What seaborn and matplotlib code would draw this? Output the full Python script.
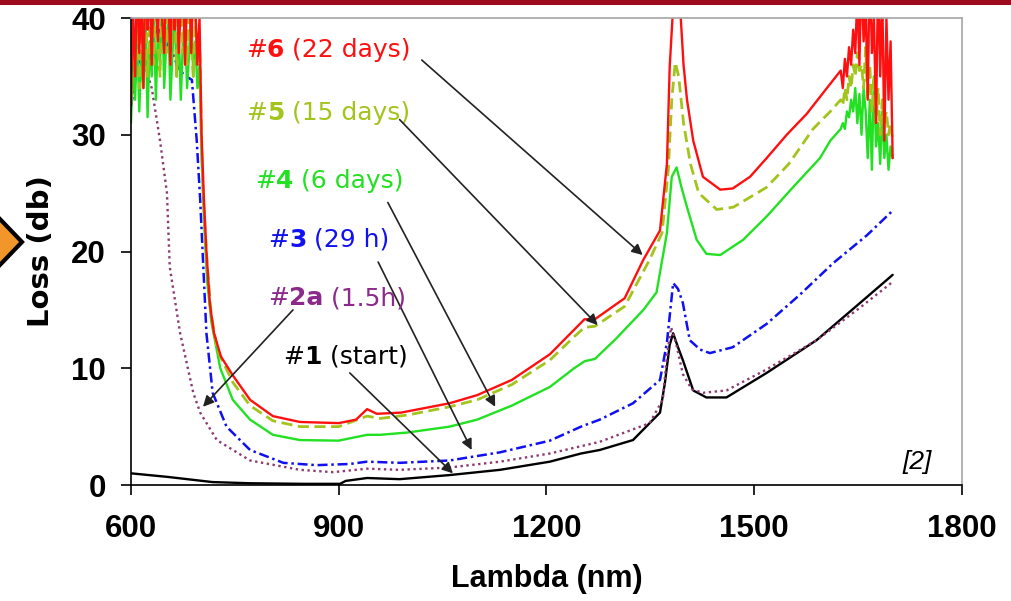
import pandas as pd
import matplotlib.pyplot as plt
import seaborn as sns
from matplotlib.patches import Polygon, Rectangle

# wavelength grids for the noisy ends of the spectra
wl_head = list(range(600, 700, 3))
wl_tail = list(range(1625, 1701, 3))

# #6 (22 days)
loss6_head = [32.5, 41, 35, 44, 37, 42, 34, 45, 39, 43, 36, 44, 41, 38, 45, 40, 37,
              44, 42, 36, 45, 39, 43, 37, 41, 45, 36, 42, 44, 37, 43, 41, 36, 40]
wl6_mid = [702, 705, 709, 714, 720, 730, 747, 772, 805, 844, 900, 925, 941, 955, 990,
           1060, 1100, 1150, 1205, 1240, 1255, 1270, 1313, 1340, 1364, 1374, 1378, 1383,
           1393, 1398, 1403, 1412, 1426, 1451, 1469, 1494, 1518, 1547, 1576, 1605]
loss6_mid = [30, 25, 20, 15.5, 13, 11, 9.4, 7.3, 5.9, 5.4, 5.3, 5.6, 6.5, 6.1, 6.2,
             7.0, 7.7, 9.0, 11.2, 13.3, 14.2, 14.2, 16.0, 19.3, 21.8, 27.5, 35.8, 41,
             41, 36, 33, 29.5, 26.4, 25.3, 25.4, 26.4, 28, 30, 31.8, 34]
loss6_tail = [35.5, 34, 36.5, 35, 37.5, 36, 39, 37, 42, 36, 44, 38, 41, 33, 45, 37, 40,
              31, 44, 35, 42, 29.5, 40, 33, 38, 28]

# #5 (15 days)
loss5_head = [33, 38, 36, 42, 34, 40, 37, 43, 35, 39, 41, 36, 44, 38, 35, 42, 39, 37,
              43, 36, 40, 42, 35, 39, 44, 37, 41, 36, 43, 38, 35, 40, 37, 39]
wl5_mid = [702, 705, 710, 716, 725, 747, 772, 805, 844, 900, 941, 960, 1000, 1060,
           1100, 1150, 1205, 1240, 1255, 1270, 1313, 1349, 1367, 1376, 1381, 1386, 1391,
           1398, 1408, 1420, 1446, 1470, 1518, 1550, 1585, 1610]
loss5_mid = [29, 24, 19, 14.5, 11.5, 8.8, 6.8, 5.5, 5.0, 5.0, 5.9, 5.7, 6.0, 6.7,
             7.3, 8.6, 10.7, 12.7, 13.5, 13.6, 15.3, 19.3, 21.6, 27, 33, 36.2, 35,
             31, 27.5, 25, 23.6, 23.8, 25.5, 27.5, 30.5, 32]
loss5_tail = [33, 32.5, 34, 33, 35, 34, 36, 35, 37, 35.5, 36, 34, 37.5, 33, 36, 32, 35,
              31, 34, 30, 33, 31, 32, 30, 31, 29.5]

# #4 (6 days)
loss4_head = [31, 36, 33, 39, 32, 37, 34, 40, 31.5, 38, 35, 41, 33, 39, 36, 42, 34, 38,
              40, 33, 37, 41, 35, 39, 33, 38, 40, 34, 37, 41, 35, 38, 34, 36]
wl4_mid = [702, 706, 710, 716, 729, 747, 772, 805, 844, 900, 941, 960, 1000, 1060,
           1100, 1150, 1205, 1240, 1255, 1270, 1300, 1340, 1359, 1374, 1381, 1388, 1395,
           1403, 1417, 1431, 1451, 1484, 1518, 1556, 1595, 1610]
loss4_mid = [28, 22, 17.5, 14, 10, 7.3, 5.6, 4.3, 3.85, 3.8, 4.3, 4.3, 4.5, 5.0,
             5.6, 6.8, 8.4, 10.0, 10.6, 10.8, 12.5, 15, 16.5, 21.6, 26.4, 27.2, 25.5,
             23.8, 21, 19.8, 19.7, 21, 23, 25.5, 28, 29.5]
loss4_tail = [30.5, 31, 30.5, 32, 31.5, 33, 32, 34, 31, 33.5, 30, 34, 32, 28, 33, 27, 35,
              29, 31, 27.5, 32, 28, 30, 27, 29, 28]

# #3 (29 h)
wl3 = [600, 610, 620, 630, 640, 650, 660, 670, 680, 688, 695, 700, 704, 709, 718, 738,
       772, 820, 868, 916, 941, 988, 1060, 1133, 1205, 1250, 1277, 1325, 1364, 1374,
       1383, 1390, 1397, 1407, 1422, 1436, 1469, 1518, 1566, 1614, 1663, 1700]
loss3 = [32.4, 36, 38, 38.5, 39, 38, 37, 35.5, 35, 34.7, 29.5, 24.4, 19.3, 13, 7.9, 5.0,
         3.0, 1.9, 1.7, 1.8, 2.0, 1.9, 2.1, 2.8, 3.8, 5.0, 5.6, 7.0, 9.0, 12.2,
         17.3, 16.8, 15.6, 12.4, 11.6, 11.3, 11.8, 13.8, 16.3, 19.0, 21.4, 23.5]

# #2a (1.5h)
wl2 = [600, 607, 613, 620, 630, 642, 652, 656, 671, 690, 700, 724, 772, 844, 892, 941,
       988, 1060, 1133, 1205, 1277, 1349, 1368, 1374, 1380, 1387, 1397, 1410, 1426,
       1460, 1518, 1590, 1653, 1700]
loss2 = [33, 35.5, 37, 36, 34, 29.5, 25, 18.7, 13, 7.9, 6.2, 3.85, 2.1, 1.3, 1.1, 1.4,
         1.3, 1.5, 2.0, 2.7, 3.7, 5.3, 7.3, 11, 13.5, 12.2, 9.5, 8.2, 7.9,
         8.1, 9.9, 12.4, 15.2, 17.4]

# #1 (start)
wl1 = [600, 652, 718, 772, 850, 902, 910, 941, 988, 1060, 1133, 1205, 1250, 1277, 1325,
       1364, 1371, 1378, 1383, 1390, 1397, 1412, 1431, 1460, 1518, 1590, 1653, 1700]
loss1 = [1.0, 0.7, 0.25, 0.15, 0.1, 0.1, 0.35, 0.6, 0.5, 0.85, 1.3, 2.0, 2.7, 3.0, 3.85,
         6.2, 8.7, 12, 13.0, 11.8, 10.7, 8.1, 7.5, 7.5, 9.6, 12.4, 15.6, 18.0]

sns.set_style('ticks')
plt.rcParams['text.color'] = 'black'
plt.rcParams['axes.labelcolor'] = 'black'
plt.rcParams['xtick.color'] = 'black'
plt.rcParams['ytick.color'] = 'black'

fig = plt.figure(figsize=(10.12, 6.01), dpi=100)
ax = fig.add_axes([0.1294, 0.193, 0.8211, 0.777])

c_red, c_olive, c_green = '#ff1010', '#a3c41c', '#22e022'
c_blue, c_purple = '#1010f0', '#8c3a70'

df1 = pd.DataFrame({'wl': wl1, 'loss': loss1})
df2 = pd.DataFrame({'wl': wl2, 'loss': loss2})
df3 = pd.DataFrame({'wl': wl3, 'loss': loss3})
df4 = pd.DataFrame({'wl': wl_head + wl4_mid + wl_tail,
                    'loss': loss4_head + loss4_mid + loss4_tail})
df5 = pd.DataFrame({'wl': wl_head + wl5_mid + wl_tail,
                    'loss': loss5_head + loss5_mid + loss5_tail})
df6 = pd.DataFrame({'wl': wl_head + wl6_mid + wl_tail,
                    'loss': loss6_head + loss6_mid + loss6_tail})

kw = dict(x='wl', y='loss', ax=ax, sort=False, estimator=None, legend=False)
sns.lineplot(data=df1, color='black', linewidth=1.7, **kw)
sns.lineplot(data=df2, color=c_purple, linewidth=1.7, linestyle=(0, (1, 1.5)), **kw)
sns.lineplot(data=df3, color=c_blue, linewidth=1.8, linestyle=(0, (4, 1.5, 1, 1.5)), **kw)
sns.lineplot(data=df4, color=c_green, linewidth=1.7, **kw)
sns.lineplot(data=df5, color=c_olive, linewidth=2.0, linestyle=(0, (4, 2)), **kw)
sns.lineplot(data=df6, color=c_red, linewidth=1.7, **kw)

ax.set_xlim(600, 1800)
ax.set_ylim(0, 40)
ax.set_xticks([600, 900, 1200, 1500, 1800])
ax.set_yticks([0, 10, 20, 30, 40])

tick_font = dict(family='Liberation Sans', weight='bold', size=22.5, color='black')
ax.set_xticklabels(['600', '900', '1200', '1500', '1800'], fontdict=tick_font)
ax.set_yticklabels(['0', '10', '20', '30', '40'], fontdict=tick_font)
ax.tick_params(axis='x', direction='out', length=7, width=1.2, pad=14, color='black')
ax.tick_params(axis='y', direction='out', length=7, width=1.2, pad=11, color='black')

for side in ['left', 'bottom']:
    ax.spines[side].set_color('black')
    ax.spines[side].set_linewidth(1.2)
for side in ['top', 'right']:
    ax.spines[side].set_visible(True)
    ax.spines[side].set_color('#a6a6a6')
    ax.spines[side].set_linewidth(1.2)

ax.set_xlabel('Lambda (nm)', family='Liberation Sans', weight='bold', size=22,
              labelpad=14, color='black')
ax.set_ylabel('Loss (db)', family='DejaVu Sans', weight='bold', size=21,
              labelpad=12, color='black')

# curve labels: "#", bold number, then the rest
labels = [
    ('6', ' (22 days)', c_red, 766, 37.3, (1020, 36.4), (1339, 19.7)),
    ('5', ' (15 days)', c_olive, 766, 31.9, (988, 31.3), (1274, 13.7)),
    ('4', ' (6 days)', c_green, 779, 26.0, (971, 24.2), (1126, 6.7)),
    ('3', ' (29 h)', c_blue, 798, 21.0, (957, 19.1), (1092, 3.0)),
    ('2a', ' (1.5h)', '#8b2a8b', 798, 16.0, (834, 15.0), (704, 6.7)),
    ('1', ' (start)', 'black', 820, 11.0, (916, 9.6), (1065, 1.0)),
]
for num, rest, col, tx, ty, a0, a1 in labels:
    t1 = ax.text(tx, ty, '#', color=col, fontsize=18, family='DejaVu Sans',
                 va='center', ha='left')
    t2 = ax.annotate(num, xy=(1, 0), xycoords=t1, color=col, fontsize=18,
                     family='DejaVu Sans', weight='bold', va='bottom', ha='left')
    ax.annotate(rest, xy=(1, 0), xycoords=t2, color=col, fontsize=18,
                family='DejaVu Sans', va='bottom', ha='left')
    ax.annotate('', xy=a1, xytext=a0,
                arrowprops=dict(arrowstyle='-|>', color='#222222', lw=1.2,
                                mutation_scale=16, shrinkA=0, shrinkB=0))

ax.text(1736, 2.0, '[2]', fontsize=19, style='italic', family='Liberation Sans',
        va='center', ha='center', color='black')

# slide decorations: top band and orange bullet
fig.patches.append(Rectangle((0, 1 - 5 / 601), 1, 5 / 601, transform=fig.transFigure,
                             facecolor='#9e0b1f', edgecolor='none'))
diamond = [(22 / 1012, 1 - 242 / 601), (-3 / 1012, 1 - 216 / 601),
           (-28 / 1012, 1 - 242 / 601), (-3 / 1012, 1 - 268 / 601)]
fig.patches.append(Polygon(diamond, closed=True, transform=fig.transFigure,
                           facecolor='#f0962a', edgecolor='black', linewidth=3))

plt.savefig('out.png', dpi=100)
